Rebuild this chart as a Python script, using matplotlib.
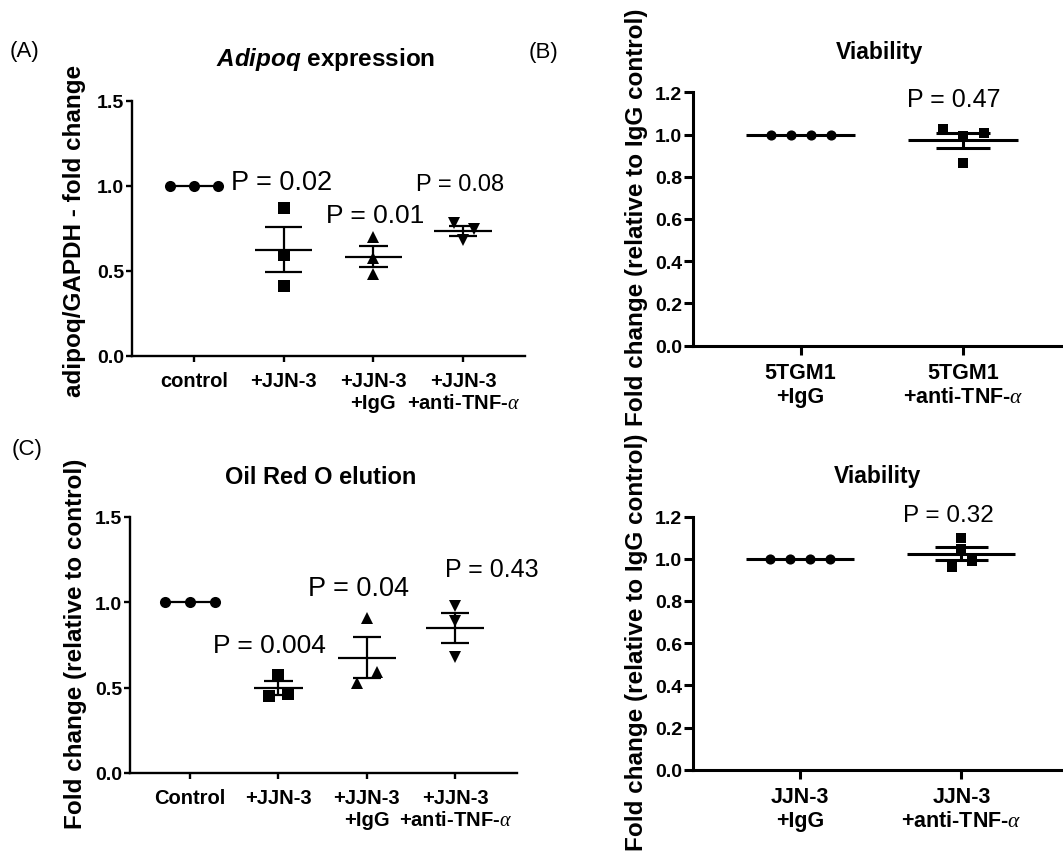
import numpy as np
import matplotlib
matplotlib.use("Agg")
import matplotlib.pyplot as plt

plt.rcParams['font.family'] = ['Liberation Sans', 'DejaVu Sans']
plt.rcParams['mathtext.fontset'] = 'custom'
plt.rcParams['mathtext.rm'] = 'Liberation Sans'
plt.rcParams['mathtext.it'] = 'Liberation Serif:italic'
plt.rcParams['mathtext.bf'] = 'Liberation Sans:bold'
plt.rcParams['mathtext.bfit'] = 'Liberation Sans:italic:bold'

# ---------------- data ----------------
a_categories = ['control', '+JJN-3', '+JJN-3\n+IgG', '+JJN-3\n+anti-TNF-$\\alpha$']
a_control = [1.0, 1.0, 1.0]
a_jjn3 = [0.868, 0.594, 0.411]
a_igg = [0.70, 0.573, 0.48]
a_anti = [0.78, 0.747, 0.68]
a_pvalues = ['P = 0.02', 'P = 0.01', 'P = 0.08']
a_yticks = [0.0, 0.5, 1.0, 1.5]
a_yticklabels = ['0.0', '0.5', '1.0', '1.5']

b_categories = ['5TGM1\n+IgG', '5TGM1\n+anti-TNF-$\\alpha$']
b_igg = [1.0, 1.0, 1.0, 1.0]
b_anti = [1.026, 0.991, 1.007, 0.864]
b_pvalue = 'P = 0.47'
bd_yticks = [0.0, 0.2, 0.4, 0.6, 0.8, 1.0, 1.2]
bd_yticklabels = ['0.0', '0.2', '0.4', '0.6', '0.8', '1.0', '1.2']

c_categories = ['Control', '+JJN-3', '+JJN-3\n+IgG', '+JJN-3\n+anti-TNF-$\\alpha$']
c_control = [1.0, 1.0, 1.0]
c_jjn3 = [0.576, 0.453, 0.46]
c_igg = [0.91, 0.53, 0.59]
c_anti = [0.98, 0.89, 0.68]
c_pvalues = ['P = 0.004', 'P = 0.04', 'P = 0.43']
c_yticks = [0.0, 0.5, 1.0, 1.5]
c_yticklabels = ['0.0', '0.5', '1.0', '1.5']

d_categories = ['JJN-3\n+IgG', 'JJN-3\n+anti-TNF-$\\alpha$']
d_igg = [1.0, 1.0, 1.0, 1.0]
d_anti = [1.098, 1.047, 0.962, 0.988]
d_pvalue = 'P = 0.32'

titles = ['$\\mathbfit{Adipoq}$ expression', 'Viability', 'Oil Red O elution', 'Viability']
ylabels = ['adipoq/GAPDH - fold change', 'Fold change (relative to IgG control)',
           'Fold change (relative to control)', 'Fold change (relative to IgG control)']
panel_tags = ['(A)', '(B)', '(C)', '(D)']

# ---------------- layout ----------------
W, H = 1063, 853
fig = plt.figure(figsize=(W / 100, H / 100), dpi=100)


def px_axes(left, top, right, bottom):
    return fig.add_axes([left / W, 1 - bottom / H, (right - left) / W, (bottom - top) / H])


def fx(x):
    return x / W


def fy(y):
    return 1 - y / H


def style_axes(ax, lw, ticklen, yticks, yticklabels, ylim, cats, xlim, xfs, xpad):
    for s in ['top', 'right']:
        ax.spines[s].set_visible(False)
    for s in ['left', 'bottom']:
        ax.spines[s].set_linewidth(lw)
    ax.set_ylim(*ylim)
    ax.set_xlim(*xlim)
    ax.set_yticks(yticks, labels=yticklabels, fontweight='bold', fontsize=14)
    ax.set_xticks(range(len(cats)), labels=cats, fontweight='bold', fontsize=xfs)
    ax.tick_params(axis='y', length=ticklen, width=lw, pad=1)
    ax.tick_params(axis='x', length=ticklen, width=lw, pad=xpad)
    ax.patch.set_alpha(0)


def draw_group(ax, x, values, offsets, marker, ms, mean_hw, cap_hw, lw):
    vals = np.asarray(values, dtype=float)
    mean = vals.mean()
    sem = vals.std(ddof=1) / np.sqrt(len(vals))
    ax.hlines(mean, x - mean_hw, x + mean_hw, color='black', lw=lw, zorder=2, clip_on=False)
    if sem > 0:
        ax.vlines(x, mean - sem, mean + sem, color='black', lw=lw, zorder=2)
        ax.hlines([mean - sem, mean + sem], x - cap_hw, x + cap_hw, color='black', lw=lw, zorder=2)
    ax.plot(x + np.asarray(offsets), vals, linestyle='none', marker=marker, ms=ms,
            color='black', markeredgewidth=0, zorder=3, clip_on=False)


# ---------- Panel A ----------
axA = px_axes(132, 101.7, 525, 357)
style_axes(axA, 1.7, 4.5, a_yticks, a_yticklabels, (0, 1.5), a_categories, (-0.69, 3.69), 14.5, 6)
draw_group(axA, 0, a_control, [-0.27, 0, 0.27], 'o', 8, 0.30, 0.2, 1.6)
draw_group(axA, 1, a_jjn3, [0, 0, 0], 's', 8.5, 0.32, 0.21, 1.6)
draw_group(axA, 2, a_igg, [0, 0, 0], '^', 8.5, 0.32, 0.16, 1.6)
draw_group(axA, 3, a_anti, [-0.1, 0.12, 0], 'v', 8.5, 0.32, 0.16, 1.6)
axA.text(0.98, 0.979, a_pvalues[0], ha='center', va='baseline', fontsize=19.5)
axA.text(2.02, 0.790, a_pvalues[1], ha='center', va='baseline', fontsize=19)
axA.text(2.97, 0.974, a_pvalues[2], ha='center', va='baseline', fontsize=17)
fig.text(fx(326), fy(66.5), titles[0], ha='center', va='baseline', fontsize=17.5, fontweight='bold')
fig.text(fx(75), fy(231), ylabels[0], ha='center', va='center', rotation=90,
         fontsize=17.5, fontweight='bold')
fig.text(fx(24.5), fy(52), panel_tags[0], ha='center', va='center', fontsize=16)

# ---------- Panel B ----------
axB = px_axes(692.5, 93.3, 1063, 346.7)
style_axes(axB, 2.2, 6.5, bd_yticks, bd_yticklabels, (0, 1.2), b_categories, (-0.665, 1.615), 15.5, 5)
draw_group(axB, 0, b_igg, [-0.185, -0.0615, 0.0615, 0.185], 'o', 7.3, 0.335, 0.166, 2.2)
draw_group(axB, 1, b_anti, [-0.125, 0, 0.13, 0], 's', 7.8, 0.336, 0.166, 2.2)
axB.text(0.94, 1.136, b_pvalue, ha='center', va='baseline', fontsize=18)
fig.text(fx(880), fy(59), titles[1], ha='center', va='baseline', fontsize=16.5, fontweight='bold')
fig.text(fx(636), fy(217), ylabels[1], ha='center', va='center', rotation=90,
         fontsize=17.5, fontweight='bold')
fig.text(fx(544), fy(52.5), panel_tags[1], ha='center', va='center', fontsize=16)

# ---------- Panel C ----------
axC = px_axes(130, 518, 517, 774)
style_axes(axC, 1.7, 4.5, c_yticks, c_yticklabels, (0, 1.5), c_categories, (-0.68, 3.7), 14.5, 6)
draw_group(axC, 0, c_control, [-0.28, 0, 0.28], 'o', 8, 0.30, 0.2, 1.6)
draw_group(axC, 1, c_jjn3, [0, -0.11, 0.11], 's', 8.5, 0.28, 0.16, 1.6)
draw_group(axC, 2, c_igg, [0, -0.11, 0.11], '^', 8.5, 0.33, 0.16, 1.6)
draw_group(axC, 3, c_anti, [0, 0, 0], 'v', 8.5, 0.33, 0.16, 1.6)
axC.text(0.898, 0.710, c_pvalues[0], ha='center', va='baseline', fontsize=19)
axC.text(1.91, 1.043, c_pvalues[1], ha='center', va='baseline', fontsize=19.5)
axC.text(3.41, 1.157, c_pvalues[2], ha='center', va='baseline', fontsize=18, clip_on=False)
fig.text(fx(321), fy(483.5), titles[2], ha='center', va='baseline', fontsize=17, fontweight='bold')
fig.text(fx(76), fy(644), ylabels[2], ha='center', va='center', rotation=90,
         fontsize=17.5, fontweight='bold')
fig.text(fx(27), fy(450), panel_tags[2], ha='center', va='center', fontsize=16)

# ---------- Panel D ----------
axD = px_axes(692.7, 517.5, 1063, 770.7)
style_axes(axD, 2.2, 6.5, bd_yticks, bd_yticklabels, (0, 1.2), d_categories, (-0.667, 1.63), 15.5, 5)
draw_group(axD, 0, d_igg, [-0.185, -0.0615, 0.0615, 0.185], 'o', 7.3, 0.335, 0.166, 2.2)
draw_group(axD, 1, d_anti, [0, 0, -0.06, 0.065], 's', 7.8, 0.335, 0.166, 2.2)
axD.text(0.92, 1.178, d_pvalue, ha='center', va='baseline', fontsize=17.5)
fig.text(fx(878), fy(483.5), titles[3], ha='center', va='baseline', fontsize=16.5, fontweight='bold')
fig.text(fx(636), fy(642), ylabels[3], ha='center', va='center', rotation=90,
         fontsize=17.5, fontweight='bold')

fig.savefig('out.png', dpi=100)
